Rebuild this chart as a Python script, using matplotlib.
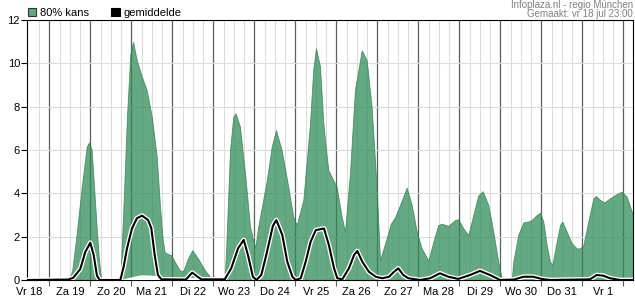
import numpy as np
import matplotlib.pyplot as plt
import matplotlib.patheffects as pe
from matplotlib.patches import Patch

plt.rcParams['font.family'] = ['Liberation Sans', 'DejaVu Sans']

# tijd in uren vanaf vr 18 jul 00:00
dagen = ["Vr 18", "Za 19", "Zo 20", "Ma 21", "Di 22", "Wo 23", "Do 24", "Vr 25",
         "Za 26", "Zo 27", "Ma 28", "Di 29", "Wo 30", "Do 31", "Vr 1"]

# 80% kans - bovengrens
t_kans = [11, 35.9, 37.5, 39.6, 43.0, 45.9, 47.2, 48.8, 50.2, 51.7, 53.0, 54.3,
          65.6, 67.5, 69.5, 71.4, 73.0, 75.2, 78.1, 81.0, 84.0, 86.9, 88.8, 90.4,
          91.6, 93.5, 95.4, 97.4, 100.3, 102.3, 105.2, 107.7, 111.0, 115.0, 118.8, 119.8,
          126.7, 127.8, 129.8, 131.7, 133.1, 135.6, 138.6, 141.5, 143.4, 144.6, 146.3, 151.3,
          154.2, 156.7, 160.0, 163.9, 166.8, 168.8, 172.7, 176.6, 178.5, 180.1, 182.5, 184.4,
          187.3, 190.3, 192.2, 195.2, 197.1, 200.0, 202.9, 206.9, 209.8, 212.7, 215.7, 217.6,
          220.9, 223.9, 226.4, 229.3, 233.2, 236.2, 239.1, 242.0, 245.9, 248.8, 251.7, 253.7,
          257.6, 261.5, 263.4, 266.4, 269.3, 272.2, 275.1, 277.7, 281.0, 283.9, 286.8, 288.8,
          289.8, 294.7, 295.6, 298.5, 301.5, 304.4, 306.4, 309.3, 311.3, 313.2, 315.2, 317.1,
          318.5, 321.0, 323.0, 324.3, 326.9, 329.8, 332.7, 334.6, 336.6, 339.5, 342.5, 344.0,
          346.4, 348.9, 352.2, 356.2, 359.1, 362.0, 364.4, 366.5]
kans_hoog = [0, 0, 0.5, 1.85, 4.3, 6.15, 6.35, 6.0, 4.3, 2.46, 1.0, 0,
             0, 3.6, 7.6, 10.4, 11.0, 10.15, 9.4, 8.77, 7.54, 5.7, 3.4, 1.85,
             1.28, 1.2, 1.15, 0.85, 0.46, 0.4, 1.0, 1.38, 1.0, 0.46, 0.08, 0,
             0, 2.0, 6.0, 7.54, 7.69, 7.08, 4.92, 2.46, 1.85, 1.5, 2.46, 4.6,
             6.15, 6.92, 6.0, 4.3, 2.92, 2.54, 3.7, 7.23, 9.7, 10.7, 9.85, 7.23,
             5.08, 4.6, 4.3, 2.92, 2.23, 4.92, 8.77, 10.6, 10.15, 8.0, 4.15, 0.92,
             1.77, 2.6, 2.9, 3.46, 4.26, 3.46, 2.23, 1.46, 0.9, 1.77, 2.54, 2.6,
             2.5, 2.77, 2.8, 2.38, 2.08, 3.0, 3.9, 4.1, 3.46, 2.23, 0.85, 0.08,
             0, 0, 0.85, 2.08, 2.66, 2.7, 2.77, 3.0, 3.1, 2.7, 1.6, 0.85,
             0.7, 1.77, 2.54, 2.7, 2.23, 1.7, 1.46, 1.46, 1.6, 2.7, 3.77, 3.88,
             3.7, 3.58, 3.77, 3.97, 4.08, 3.85, 3.3, 2.77]

# 80% kans - ondergrens (alleen waar die boven 0 ligt)
t_laag = [66, 72, 78, 84, 90, 96, 102, 108, 114, 118]
kans_laag = [0, 0.12, 0.22, 0.2, 0.15, 0.1, 0.05, 0.1, 0.05, 0]

# gemiddelde
t_gem = [11, 35, 38, 42.1, 45.1, 48.0, 50.0, 51.9, 53.5, 65.6, 67.5, 69.5,
         72.4, 75.3, 78.3, 81.8, 83.7, 85.7, 87.6, 89.6, 104, 106, 107.7, 110,
         113, 126.7, 130.5, 134.5, 137.8, 140.3, 143.2, 145.2, 148.1, 151.0, 154.9, 156.9,
         160.4, 163.3, 166.3, 168.2, 171.2, 174.1, 177.0, 180.0, 184.8, 187.7, 190.7, 192.6,
         195.5, 199.4, 202.4, 204.3, 207.2, 211.1, 215.1, 219.0, 222.9, 225.8, 228.3, 231.2,
         234.2, 241.0, 246.9, 252.7, 257.6, 263.4, 270.3, 276.1, 282.0, 287.9, 296, 301.5,
         307.3, 312.2, 317.1, 340.5, 344.4, 348.3, 352.2, 358.1, 366.5]
gem = [0, 0.02, 0.1, 0.5, 1.3, 1.72, 1.15, 0.2, 0, 0, 0.6, 1.46,
       2.38, 2.85, 2.97, 2.77, 2.4, 1.15, 0.23, 0.03, 0.02, 0.2, 0.34, 0.2,
       0.03, 0.03, 0.54, 1.46, 1.85, 1.15, 0.15, 0, 0.23, 1.15, 2.5, 2.77,
       2.08, 0.85, 0.15, 0, 0.08, 0.85, 1.77, 2.3, 2.38, 1.6, 0.54, 0.08,
       0.03, 0.54, 1.15, 1.34, 0.85, 0.38, 0.15, 0.08, 0.15, 0.38, 0.54, 0.23,
       0.08, 0, 0.08, 0.31, 0.15, 0.05, 0.23, 0.42, 0.23, 0, 0.02, 0.15,
       0.15, 0.05, 0, 0.03, 0.23, 0.2, 0.08, 0, 0]

groen = '#2e8b57'

fig = plt.figure(figsize=(6.35, 3.0), dpi=100)
ax = fig.add_axes([27 / 635, 20 / 300, 606 / 635, 260 / 300])
ax.set_xlim(10.95, 365.7)
ax.set_ylim(0, 12)

# lichte lijnen elke 6 uur, donkere om middernacht
for h in range(18, 366, 6):
    if h % 24:
        ax.axvline(h, color='#dcdcdc', lw=0.8, zorder=0)
ax.set_yticks(range(0, 13, 2))
ax.grid(axis='y', color='#dcdcdc', lw=0.8, zorder=0)
ax.set_xticks(range(24, 361, 24))
ax.set_xticklabels([])
ax.grid(axis='x', which='major', color='#5e5e5e', lw=0.9)
ax.set_axisbelow(True)

ax.set_xticks([12 + 24 * i for i in range(len(dagen))], minor=True)
ax.set_xticklabels(dagen, minor=True)
ax.tick_params(axis='x', which='minor', length=0, pad=5, labelsize=8)
ax.tick_params(axis='x', which='major', length=4, color='#5e5e5e')
ax.tick_params(axis='y', length=4, pad=1, labelsize=8)

ax.fill_between(t_kans, 0, kans_hoog, facecolor=groen, alpha=0.74,
                edgecolor='#2a7a4f', lw=0.6, zorder=2)
ax.fill_between(t_laag, 0, kans_laag, facecolor='white', lw=0, zorder=3)
ax.plot(t_gem, gem, color='black', lw=1.5, zorder=4,
        path_effects=[pe.Stroke(linewidth=3.4, foreground='white'), pe.Normal()])

for s in ax.spines.values():
    s.set_color('black')
    s.set_linewidth(0.8)

fig.legend([Patch(facecolor='#62a682', edgecolor='#333333', lw=0.8),
            Patch(facecolor='black', edgecolor='black', lw=0.8)],
           ['80% kans', 'gemiddelde'], loc='center left',
           bbox_to_anchor=(28 / 635, 1 - 13 / 300), ncol=2, frameon=False,
           fontsize=8, handlelength=0.75, handleheight=0.75, handletextpad=0.35,
           columnspacing=2.0, borderpad=0, borderaxespad=0)

fig.text(633 / 635, 1 - 5 / 300, 'Infoplaza.nl - regio München', ha='right',
         va='center', fontsize=7, color='#808080')
fig.text(633 / 635, 1 - 14 / 300, 'Gemaakt: vr 18 jul 23:00', ha='right',
         va='center', fontsize=7, color='#808080')

fig.savefig('out.png', dpi=100)
